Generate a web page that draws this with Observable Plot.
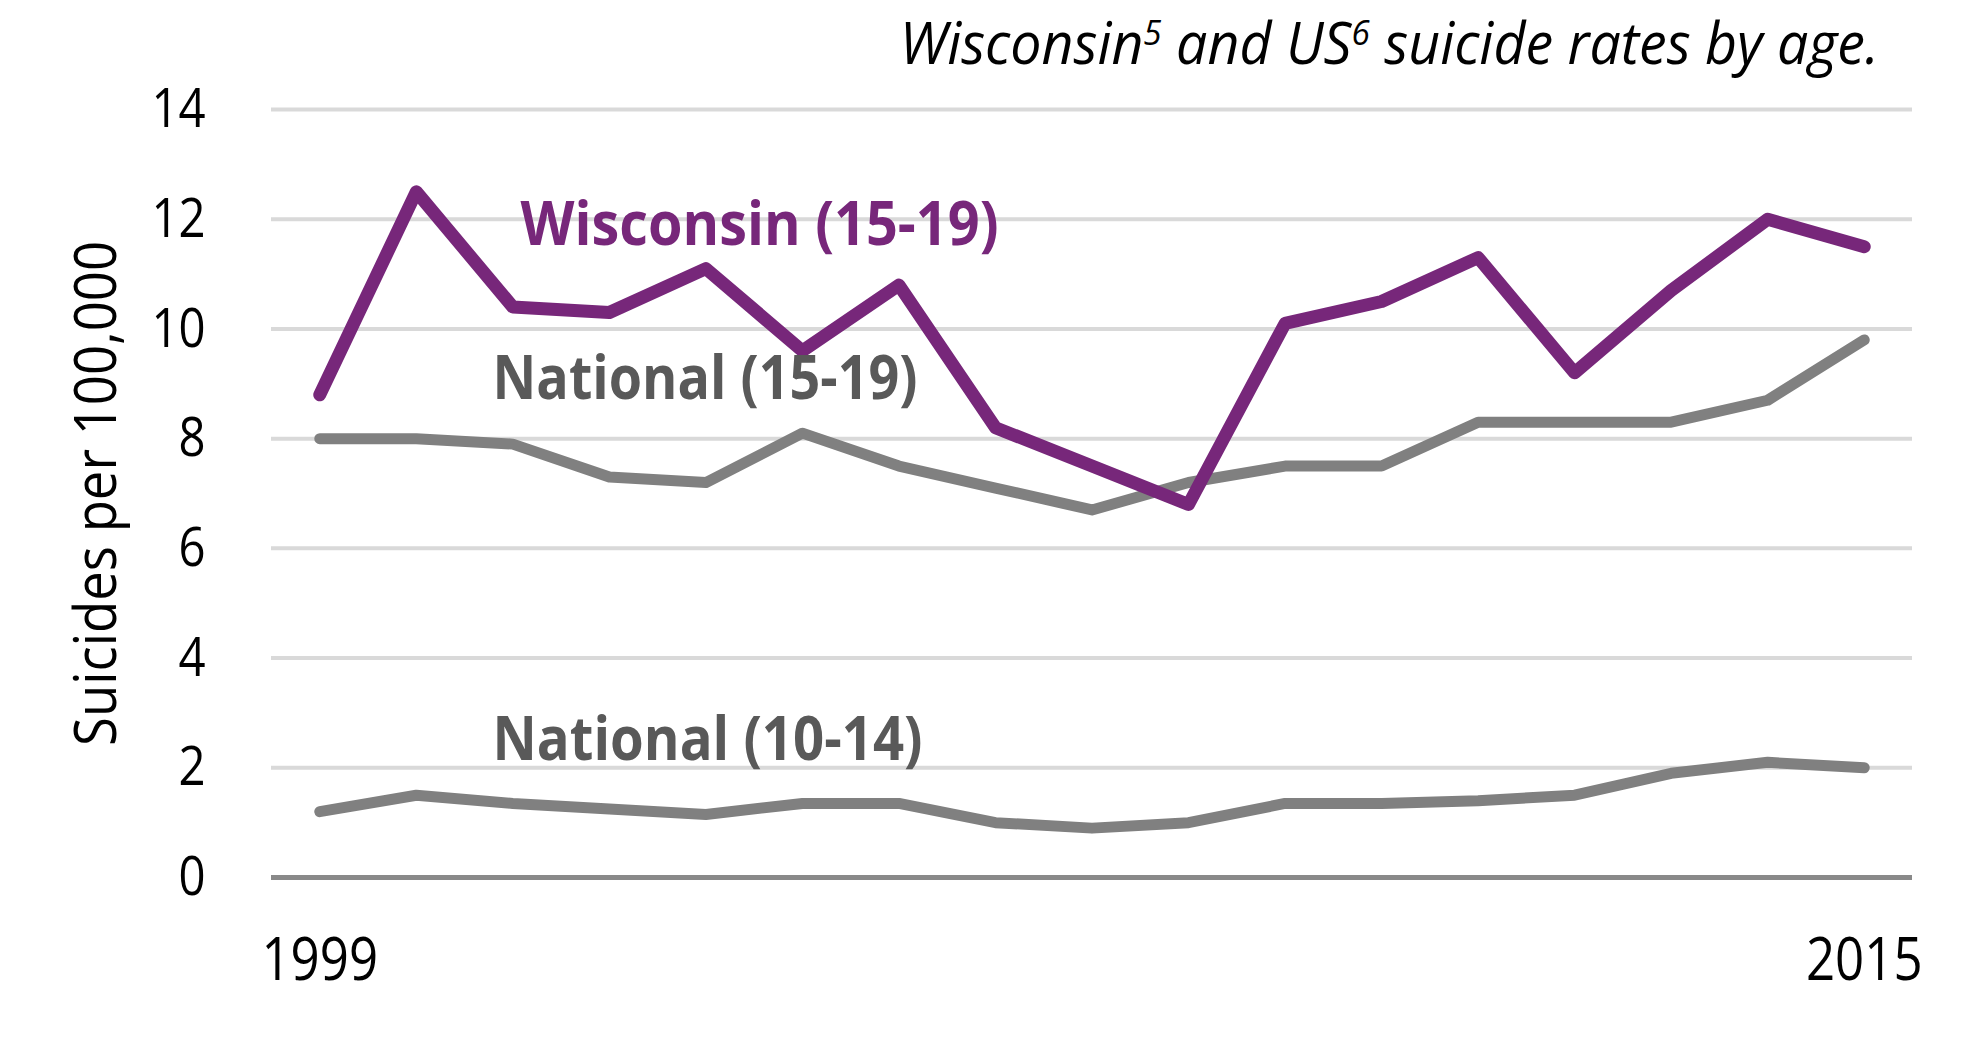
<!DOCTYPE html>
<html>
<head>
<meta charset="utf-8">
<script src="https://cdn.jsdelivr.net/npm/d3@7"></script>
<script src="https://cdn.jsdelivr.net/npm/@observablehq/plot@0.6"></script>
<style>
  body { margin: 0; background: #fff; }
  #wrap { width: 1988px; }
  #title { position: relative; height: 90px; font-family: "Open Sans", sans-serif; }
  #title span { position: absolute; right: 109px; top: 12px; font-style: italic; font-size: 59px;
    line-height: 1; white-space: nowrap; transform-origin: right center; color: #000; }
  #title sup { font-size: 0.6em; vertical-align: baseline; position: relative; top: -0.55em; }
</style>
</head>
<body>
<div id="wrap">
  <div id="title"><span>Wisconsin<sup>5</sup> and US<sup>6</sup> suicide rates by age.</span></div>
</div>
<script>
// ---- data ----
const years = [1999, 2000, 2001, 2002, 2003, 2004, 2005, 2006, 2007, 2008, 2009, 2010, 2011, 2012, 2013, 2014, 2015];
const wisconsin1519 = [8.8, 12.5, 10.4, 10.3, 11.1, 9.6, 10.8, 8.2, 7.5, 6.8, 10.1, 10.5, 11.3, 9.2, 10.7, 12.0, 11.5];
const national1519 = [8.0, 8.0, 7.9, 7.3, 7.2, 8.1, 7.5, 7.1, 6.7, 7.2, 7.5, 7.5, 8.3, 8.3, 8.3, 8.7, 9.8];
const national1014 = [1.2, 1.5, 1.35, 1.25, 1.15, 1.35, 1.35, 1.0, 0.9, 1.0, 1.35, 1.35, 1.4, 1.5, 1.9, 2.1, 2.0];
const yTicks = [0, 2, 4, 6, 8, 10, 12, 14];
const xTickLabels = [1999, 2015];
const seriesNames = ["Wisconsin (15-19)", "National (15-19)", "National (10-14)"];
const labelYears = [2001.08, 2000.79, 2000.79];
const labelValues = [11.89, 9.07, 2.49];
const yTitle = "Suicides per 100,000";

const rows = (vals) => years.map((yr, i) => ({year: yr, value: vals[i]}));
const labels = seriesNames.map((name, i) => ({name, year: labelYears[i], value: labelValues[i]}));

const purple = "#77277a";
const grayLine = "#808080";
const grayText = "#595959";

const chart = Plot.plot({
  width: 1988,
  height: 964,
  marginLeft: 271,
  marginRight: 76,
  marginTop: 19,
  marginBottom: 177,
  x: {domain: [1998.5, 2015.5]},
  y: {domain: [0, 14]},
  style: {fontFamily: '"Open Sans", sans-serif', background: "#fff", overflow: "visible"},
  marks: [
    Plot.ruleY(yTicks.filter(d => d > 0), {stroke: "#d9d9d9", strokeWidth: 4}),
    Plot.ruleY([0], {stroke: "#898989", strokeWidth: 5}),
    Plot.axisY({ticks: yTicks, tickSize: 0, tickPadding: 66, fontSize: 55, label: null, fill: "#000"}),
    Plot.axisX({ticks: xTickLabels, tickSize: 0, tickPadding: 60, fontSize: 60, label: null, tickFormat: "d", fill: "#000"}),
    Plot.line(rows(national1014), {x: "year", y: "value", stroke: grayLine, strokeWidth: 11, strokeLinecap: "round", strokeLinejoin: "round"}),
    Plot.line(rows(national1519), {x: "year", y: "value", stroke: grayLine, strokeWidth: 11, strokeLinecap: "round", strokeLinejoin: "round"}),
    Plot.line(rows(wisconsin1519), {x: "year", y: "value", stroke: purple, strokeWidth: 13, strokeLinecap: "round", strokeLinejoin: "round"}),
    Plot.text(labels, {x: "year", y: "value", text: "name", textAnchor: "start", lineAnchor: "middle",
      fontSize: 61, fontWeight: "bold", fill: (d, i) => i === 0 ? purple : grayText}),
    Plot.text([yTitle], {frameAnchor: "left", rotate: -90, dx: -197, dy: 0, lineAnchor: "top", textAnchor: "middle",
      fontSize: 58, fill: "#000"})
  ]
});

document.getElementById("wrap").appendChild(chart);

// horizontal condensing to match the narrow lettering of the reference
function fitWidth(el, target) {
  const w = el.getComputedTextLength();
  if (w > 0) {
    el.setAttribute("textLength", target);
    el.setAttribute("lengthAdjust", "spacingAndGlyphs");
  }
}
const widths = {
  "Wisconsin (15-19)": 478,
  "National (15-19)": 425,
  "National (10-14)": 430,
  "Suicides per 100,000": 505
};
chart.querySelectorAll("text").forEach(t => {
  const s = t.textContent;
  if (widths[s] != null) fitWidth(t, widths[s]);
  else if (/^\d+$/.test(s)) {
    const k = s.length === 4 ? 0.85 : 0.86;
    fitWidth(t, t.getComputedTextLength() * k);
  }
});

const span = document.querySelector("#title span");
const tw = span.getBoundingClientRect().width;
span.style.transform = `scaleX(${979 / tw})`;
</script>
</body>
</html>
